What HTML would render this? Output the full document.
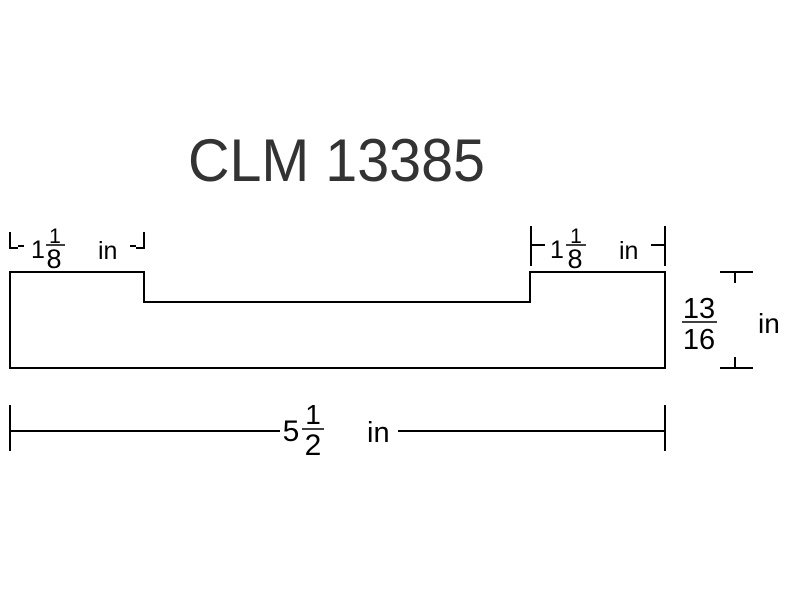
<!DOCTYPE html>
<html><head><style>body{margin:0;background:#fff}svg{display:block}text{font-family:"Liberation Sans",sans-serif;fill:#000}</style></head>
<body>
<svg width="800" height="600" viewBox="0 0 800 600" xmlns="http://www.w3.org/2000/svg">
<g fill="none" stroke="#000" stroke-width="2">
<polygon points="10,272 144,272 144,302 530,302 530,272 665,272 665,368 10,368"/>
<path d="M10,232V248H18M144,232V248H136"/>
<path d="M18,246L24,246M136,246L130,246"/>
<path d="M531,226V266M665,226V266M531,245H545M665,245H651"/>
<path d="M720,272H753M735,272V283M720,368H753M735,368V357"/>
<path d="M10,405V451M665,405V451M10,431H280M398,431H665"/>
</g>
<g stroke="#000" stroke-width="1.5">
<path d="M46,245H65M566,245H586"/>
<path d="M682,322H717"/>
<path d="M302,429H324"/>
</g>
<text x="188" y="181" font-size="60" textLength="297" lengthAdjust="spacingAndGlyphs" style="fill:#333">CLM 13385</text>
<g text-anchor="middle">
<text x="38" y="258" font-size="25">1</text>
<text x="55" y="243" font-size="21">1</text>
<text x="54" y="268" font-size="27">8</text>
<text x="557" y="258" font-size="25">1</text>
<text x="576" y="243" font-size="21">1</text>
<text x="575" y="268" font-size="27">8</text>
<text x="699" y="318" font-size="29">13</text>
<text x="699" y="349" font-size="29">16</text>
<text x="291" y="441" font-size="30">5</text>
<text x="313" y="424" font-size="28">1</text>
<text x="313" y="455" font-size="30">2</text>
</g>
<text x="98" y="259" font-size="25">in</text>
<text x="619" y="259" font-size="25">in</text>
<text x="758" y="333" font-size="28">in</text>
<text x="367" y="442" font-size="29">in</text>
</svg>
</body></html>
